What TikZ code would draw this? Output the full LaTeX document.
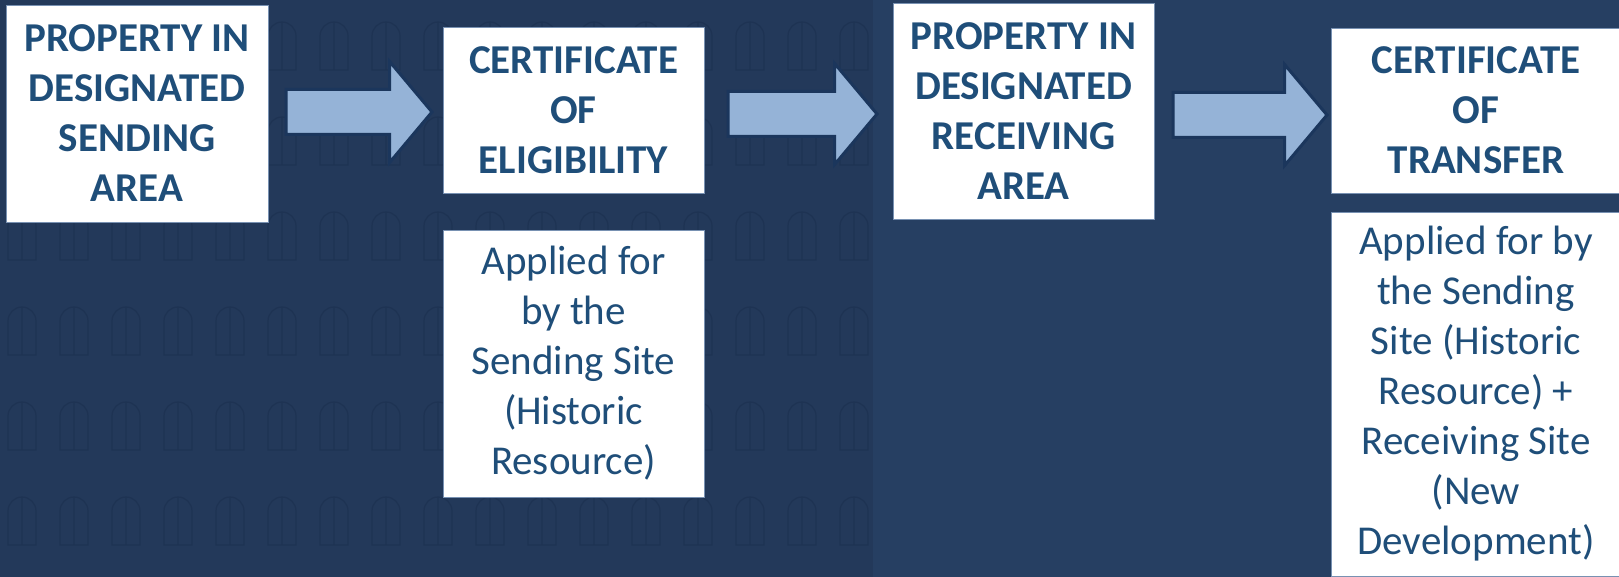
\documentclass[tikz,border=0pt]{standalone}
\usepackage{fontspec}
\setmainfont{Carlito}
\usetikzlibrary{shapes.arrows}
\definecolor{bgleft}{RGB}{35,57,90}
\definecolor{bgright}{RGB}{38,63,98}
\definecolor{sketch}{RGB}{30,51,83}
\definecolor{textblue}{RGB}{31,78,121}
\definecolor{boxedge}{RGB}{120,145,178}
\definecolor{arrowfill}{RGB}{149,179,215}
\definecolor{arrowline}{RGB}{27,54,92}

\begin{document}
\begin{tikzpicture}[x=1pt,y=-1pt,
  title/.style={fill=white,draw=boxedge,line width=0.6pt,text=textblue,align=center,
    font=\fontsize{41}{50}\selectfont\bfseries},
  note/.style={title,font=\fontsize{41}{50}\selectfont},
  flow/.style={single arrow,draw=arrowline,fill=arrowfill,line width=3pt,
    inner xsep=0pt,inner ysep=21pt,single arrow head extend=28pt,
    single arrow tip angle=100,anchor=tail}]
  \useasboundingbox (0,0) rectangle (1619,577);
  % background
  \fill[bgleft] (0,0) rectangle (873,577);
  \fill[bgright] (873,0) rectangle (1619,577);
  \begin{scope}
    \clip (0,0) rectangle (873,577);
    \foreach \x in {8,60,...,860}
      \foreach \y in {70,165,...,620}
        \draw[sketch,line width=1.2pt] (\x,\y) -- ++(0,-34)
          arc[start angle=180,end angle=360,radius=14] -- ++(0,34) -- cycle
          (\x+14,\y) -- ++(0,-48);
  \end{scope}
  % boxes
  \node[title,minimum width=262,minimum height=217] (send) at (137,113.5)
    {PROPERTY IN\\DESIGNATED\\SENDING\\AREA};
  \node[title,minimum width=261,minimum height=166] (elig) at (573.5,110)
    {CERTIFICATE\\OF\\ELIGIBILITY};
  \node[note,minimum width=261,minimum height=267] (elignote) at (573.5,363.5)
    {Applied for\\by the\\Sending Site\\(Historic\\Resource)};
  \node[title,minimum width=261,minimum height=216] (recv) at (1023.5,111)
    {PROPERTY IN\\DESIGNATED\\RECEIVING\\AREA};
  \node[title,minimum width=290,minimum height=165] (xfer) at (1476,110.5)
    {CERTIFICATE\\OF\\TRANSFER};
  \node[note,minimum width=290,minimum height=364] (xfernote) at (1476,394)
    {Applied for by\\the Sending\\Site (Historic\\Resource) +\\Receiving Site\\(New\\Development)};
  % arrows
  \node[flow,minimum height=146] (arrA) at (284.5,112) {};
  \node[flow,minimum height=149] (arrB) at (726.5,114) {};
  \node[flow,minimum height=154] (arrC) at (1171.5,115) {};
\end{tikzpicture}
\end{document}
